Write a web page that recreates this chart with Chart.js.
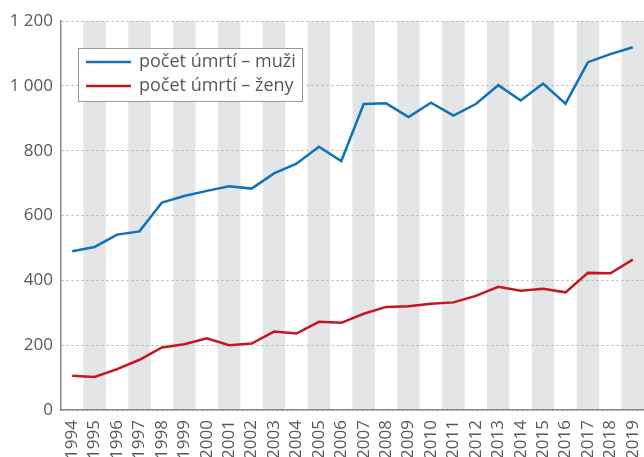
<!DOCTYPE html>
<html>
<head>
<meta charset="utf-8">
<script src="https://cdn.jsdelivr.net/npm/chart.js@4"></script>
<style>
  html, body { margin: 0; padding: 0; background: #fff; }
  #wrap { width: 644px; height: 457px; }
</style>
</head>
<body>
<div id="wrap"><canvas id="lineChart"></canvas></div>
<script>
// years and values
const years = ["1994", "1995", "1996", "1997", "1998", "1999", "2000", "2001", "2002", "2003", "2004", "2005", "2006",
  "2007", "2008", "2009", "2010", "2011", "2012", "2013", "2014", "2015", "2016", "2017", "2018", "2019"];
const deaths_male = [490, 503, 541, 551, 640, 660, 676, 690, 683, 730, 760, 812, 768,
  944, 946, 904, 948, 908, 944, 1002, 955, 1007, 945, 1073, 1098, 1119];
const deaths_female = [106, 102, 126, 155, 193, 203, 221, 200, 205, 242, 236, 272, 269,
  297, 318, 320, 328, 332, 352, 380, 368, 374, 363, 423, 422, 464];
const yTicks = [0, 200, 400, 600, 800, 1000, 1200];

const textColor = "#585858";
const fontFamily = "'Open Sans', 'Noto Sans', sans-serif";

// grey bands behind every second year
const bands = {
  id: "bands",
  beforeDraw(chart) {
    const { ctx, chartArea, scales } = chart;
    const x = scales.x;
    const step = x.getPixelForValue(1) - x.getPixelForValue(0);
    ctx.save();
    ctx.fillStyle = "#e4e5e7";
    years.forEach((y, i) => {
      if (i % 2 === 1) {
        const cx = x.getPixelForValue(i);
        ctx.fillRect(cx - step / 2, chartArea.top, step, chartArea.bottom - chartArea.top);
      }
    });
    ctx.restore();
  },
};

// legend drawn inside the plot
const boxLegend = {
  id: "boxLegend",
  afterDatasetsDraw(chart) {
    const { ctx } = chart;
    const left = 78, top = 48, w = 224, h = 53;
    ctx.save();
    ctx.fillStyle = "#fff";
    ctx.fillRect(left, top, w, h);
    ctx.strokeStyle = "#999";
    ctx.lineWidth = 1;
    ctx.strokeRect(left + 0.5, top + 0.5, w, h);
    ctx.font = "18px " + fontFamily;
    ctx.textBaseline = "middle";
    chart.data.datasets.forEach((ds, i) => {
      const yy = top + 14 + i * 24;
      ctx.strokeStyle = ds.borderColor;
      ctx.lineWidth = 2.5;
      ctx.beginPath();
      ctx.moveTo(left + 8, yy);
      ctx.lineTo(left + 53, yy);
      ctx.stroke();
      ctx.fillStyle = textColor;
      ctx.fillText(ds.label, left + 61, yy);
    });
    ctx.restore();
  },
};

new Chart(document.getElementById("lineChart"), {
  type: "line",
  data: {
    labels: years,
    datasets: [
      {
        label: "počet úmrtí – muži",
        data: deaths_male,
        borderColor: "#0f73b9",
        borderWidth: 2.5,
        pointRadius: 0,
        tension: 0,
      },
      {
        label: "počet úmrtí – ženy",
        data: deaths_female,
        borderColor: "#c4171f",
        borderWidth: 2.5,
        pointRadius: 0,
        tension: 0,
      },
    ],
  },
  options: {
    responsive: true,
    maintainAspectRatio: false,
    animation: false,
    layout: { padding: { top: 21, right: 0, left: 0, bottom: 0 } },
    plugins: {
      legend: { display: false },
      tooltip: { enabled: false },
    },
    scales: {
      x: {
        offset: true,
        grid: { display: false, offset: true },
        border: { display: true, color: "#8a8a8a", width: 1.5 },
        ticks: {
          color: textColor,
          font: { size: 17, family: fontFamily },
          minRotation: 90,
          maxRotation: 90,
          autoSkip: false,
          padding: 2,
        },
        afterFit(scale) {
          scale.height = 47;
          scale.paddingRight = 0;
          scale.paddingLeft = 0;
        },
      },
      y: {
        min: 0,
        max: 1200,
        afterBuildTicks(scale) { scale.ticks = yTicks.map((v) => ({ value: v })); },
        grid: {
          color: "#b0b0b0",
          drawTicks: false,
          tickLength: 0,
        },
        border: { display: true, color: "#8a8a8a", width: 1.5, dash: [2, 3] },
        ticks: {
          color: textColor,
          font: { size: 17, family: fontFamily },
          padding: 8,
          callback: (v) => String(v).replace(/\B(?=(\d{3})+(?!\d))/g, " "),
        },
        afterFit(scale) { scale.width = 61; },
      },
    },
  },
  plugins: [bands, boxLegend],
});
</script>
</body>
</html>
